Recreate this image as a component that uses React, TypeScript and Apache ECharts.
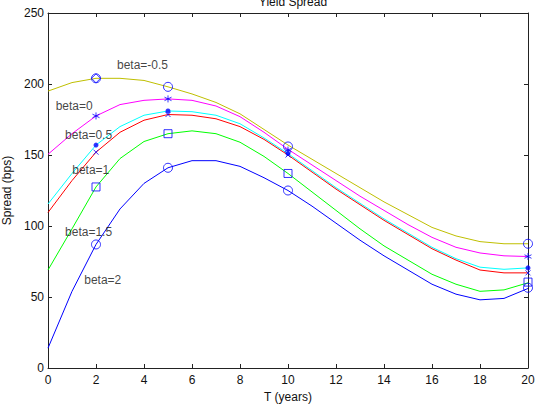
import React, { useEffect, useRef } from "react";
import * as echarts from "echarts";

// Maturities (years) for the spread curves
const maturities = [0, 1, 2, 3, 4, 5, 6, 7, 8, 9, 10, 11, 12, 13, 14, 15, 16, 17, 18, 19, 20];

// Yield spread curves (bps), one per beta
const spreadBetaNeg05 = [195, 201, 204, 204, 202.5, 198, 193, 187, 179, 168, 157, 147, 137, 127, 117, 108, 99, 93, 89, 87.5, 87.5];
const spreadBeta0 = [150.5, 165, 177.5, 185.5, 188.5, 189.5, 188.5, 184.5, 177, 166, 154, 143, 132, 121, 111, 101, 92, 85, 81, 79, 78.5];
const spreadBeta05 = [115.5, 137, 157, 170, 178, 181, 180.5, 178, 172, 162, 151, 139, 127, 116, 105, 95, 85, 77, 71, 69.5, 70.5];
const spreadBeta1 = [109.5, 132, 152, 166, 174.5, 178.5, 178, 175.5, 170, 161, 150, 138, 126, 115, 104, 94, 84, 76, 69, 67, 67];
const spreadBeta15 = [69, 98, 127.5, 147.5, 159.5, 165, 167, 165, 159, 149, 137, 124, 111, 98, 86, 76, 66, 59, 54, 55, 60];
const spreadBeta2 = [14, 54, 87, 112, 130, 141, 146, 146, 142, 134, 125, 114, 102, 90, 79, 69, 59, 52, 48, 49, 56];

// Marked maturities and the spreads at those maturities
const markedMaturities = [2, 5, 10, 20];
const markedBetaNeg05 = [204, 198, 156, 87.5];
const markedBeta0 = [177.5, 189.5, 153.5, 78.5];
const markedBeta05 = [157, 181, 151, 70.5];
const markedBeta1 = [152, 178.5, 150, 67];
const markedBeta15 = [127.5, 165, 137, 60.5];
const markedBeta2 = [87, 141, 125, 56.5];

// Curve annotations
const labelTexts = ["beta=-0.5", "beta=0", "beta=0.5", "beta=1", "beta=1.5", "beta=2"];
const labelX = [2.875, 0.32, 0.71, 1.01, 0.71, 1.51];
const labelY = [213.4, 184.5, 164, 139.4, 96, 62];

const xTicks = [0, 20, 2];
const yTicks = [0, 250, 50];

const FONT = "Liberation Sans, Arial, Helvetica, sans-serif";
const MARK = "#0000ff";

const ASTERISK = "path://M5,0L5,10M0.7,2.5L9.3,7.5M0.7,7.5L9.3,2.5";
const CROSS = "path://M0,0L10,10M0,10L10,0";

export default function App() {
  const ref = useRef<HTMLDivElement>(null);

  useEffect(() => {
    if (!ref.current) return;
    const chart = echarts.init(ref.current, undefined, { renderer: "svg" });

    const curve = (name: string, values: number[], color: string) => ({
      name,
      type: "line",
      data: maturities.map((m, i) => [m, values[i]]),
      showSymbol: false,
      symbol: "none",
      lineStyle: { color, width: 1 },
      z: 2,
    });

    const marks = (name: string, values: number[], symbol: string, size: number, filled: boolean, lw = 1) => ({
      name,
      type: "scatter",
      data: markedMaturities.map((m, i) => [m, values[i]]),
      symbol,
      symbolSize: size,
      itemStyle: filled
        ? { color: MARK }
        : { color: "rgba(0,0,0,0)", borderColor: MARK, borderWidth: lw },
      z: 5,
    });

    const axisCommon = {
      min: 0,
      axisLine: { show: true, onZero: false, lineStyle: { color: "#222", width: 1 } },
      axisTick: { show: true, inside: true, length: 4, lineStyle: { color: "#222" } },
      splitLine: { show: false },
    };

    chart.setOption({
      animation: false,
      backgroundColor: "#fff",
      title: {
        text: "Yield Spread",
        left: 288,
        top: -9,
        textAlign: "center",
        textStyle: { fontFamily: FONT, fontSize: 12, fontWeight: "normal", color: "#111" },
      },
      grid: { left: 48, right: 9, top: 13, bottom: 45, containLabel: false, outerBoundsMode: "none" },
      xAxis: [
        {
          ...axisCommon,
          type: "value",
          min: xTicks[0],
          max: xTicks[1],
          interval: xTicks[2],
          position: "bottom",
          name: "T (years)",
          nameLocation: "middle",
          nameGap: 21,
          nameTextStyle: { fontFamily: FONT, fontSize: 12, color: "#111" },
          axisLabel: { fontFamily: FONT, fontSize: 12, color: "#111", margin: 6 },
        },
        {
          ...axisCommon,
          type: "value",
          min: xTicks[0],
          max: xTicks[1],
          interval: xTicks[2],
          position: "top",
          axisLabel: { show: false },
        },
      ],
      yAxis: [
        {
          ...axisCommon,
          type: "value",
          min: yTicks[0],
          max: yTicks[1],
          interval: yTicks[2],
          position: "left",
          name: "Spread (bps)",
          nameLocation: "middle",
          nameGap: 29,
          nameTextStyle: { fontFamily: FONT, fontSize: 12, color: "#111" },
          axisLabel: { fontFamily: FONT, fontSize: 12, color: "#111", margin: 4 },
        },
        {
          ...axisCommon,
          type: "value",
          min: yTicks[0],
          max: yTicks[1],
          interval: yTicks[2],
          position: "right",
          axisLabel: { show: false },
        },
      ],
      series: [
        curve("beta=-0.5", spreadBetaNeg05, "#bfbf00"),
        curve("beta=0", spreadBeta0, "#ff00ff"),
        curve("beta=0.5", spreadBeta05, "#00ffff"),
        curve("beta=1", spreadBeta1, "#ff0000"),
        curve("beta=1.5", spreadBeta15, "#00ff00"),
        curve("beta=2", spreadBeta2, "#0000ff"),
        marks("beta=-0.5 circle", markedBetaNeg05, "circle", 9, false),
        {
          name: "beta=-0.5 diamond",
          type: "scatter",
          data: [[markedMaturities[0], markedBetaNeg05[0]]],
          symbol: "diamond",
          symbolSize: 9,
          itemStyle: { color: "rgba(0,0,0,0)", borderColor: MARK, borderWidth: 1 },
          z: 5,
        },
        marks("beta=0 marks", markedBeta0, ASTERISK, 7, false, 1),
        marks("beta=0.5 marks", markedBeta05, "circle", 5, true),
        marks("beta=1 marks", markedBeta1, CROSS, 5, false, 1),
        marks("beta=1.5 marks", markedBeta15, "rect", 8, false),
        marks("beta=2 marks", markedBeta2, "circle", 9, false),
        {
          name: "labels",
          type: "scatter",
          data: labelTexts.map((t, i) => [labelX[i], labelY[i], t]),
          symbolSize: 0,
          silent: true,
          label: {
            show: true,
            position: "right",
            distance: 0,
            formatter: (p: any) => p.data[2],
            fontFamily: FONT,
            fontSize: 12,
            color: "#111",
          },
          z: 6,
        },
      ],
    });

    return () => chart.dispose();
  }, []);

  return (
    <div
      ref={ref}
      style={{ position: "fixed", left: 0, top: 0, width: 537, height: 413 }}
    />
  );
}
